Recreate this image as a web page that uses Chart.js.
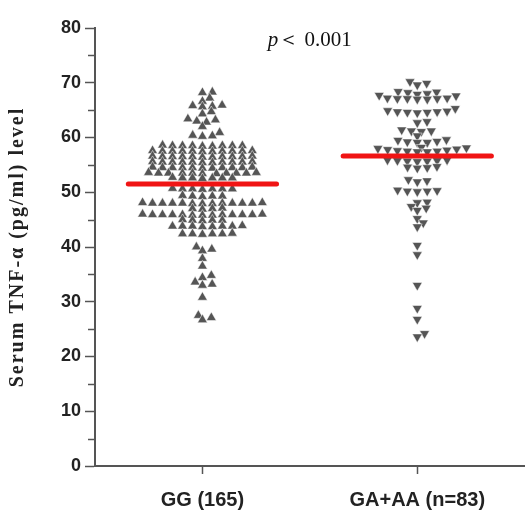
<!DOCTYPE html>
<html>
<head>
<meta charset="utf-8">
<script src="https://cdn.jsdelivr.net/npm/chart.js@4.4.1/dist/chart.umd.min.js"></script>
<style>
html,body{margin:0;padding:0;background:#ffffff;}
#wrap{width:531px;height:514px;position:relative;}
</style>
</head>
<body>
<div id="wrap"><canvas id="c" width="531" height="514"></canvas></div>
<script>
// ---------- data ----------
const categories = ['GG (165)', 'GA+AA (n=83)'];

const ggValues = [
  // sparse upper part
  68.3, 68.2, 67.2, 66.6, 65.9, 65.8, 65.7, 65.6, 64.7, 64.3,
  63.4, 63.2, 63.0, 62.8, 62.0, 60.9, 60.4, 60.3, 60.2,
  // dense upper band
  58.5, 58.5, 58.4, 58.5, 58.6, 58.5, 58.4, 58.5, 58.5,
  57.5, 57.5, 57.4, 57.5, 57.6, 57.5, 57.5, 57.4, 57.5, 57.6, 57.5,
  56.5, 56.5, 56.4, 56.5, 56.6, 56.5, 56.5, 56.4, 56.5, 56.6, 56.5,
  55.5, 55.5, 55.4, 55.5, 55.6, 55.5, 55.5, 55.4, 55.5, 55.6, 55.5,
  54.5, 54.5, 54.4, 54.5, 54.6, 54.5, 54.5, 54.4, 54.5, 54.6, 54.5,
  53.5, 53.5, 53.4, 53.5, 53.6, 53.5, 53.5, 53.4, 53.5, 53.6, 53.5,
  52.6, 52.6, 52.5, 52.6, 52.7, 52.6, 52.6,
  // dense lower band
  50.6, 50.6, 50.5, 50.6, 50.7, 50.6, 50.6,
  49.3, 49.3, 49.2, 49.3, 49.4,
  48.0, 48.0, 47.9, 48.0, 48.1, 48.0, 48.0, 47.9, 48.0, 48.1, 48.0, 48.0, 47.9,
  47.0, 47.0, 46.9, 47.1,
  45.9, 45.9, 45.8, 45.9, 46.0, 45.9, 45.9, 45.8, 45.9, 46.0, 45.9, 45.9, 45.8,
  44.9, 44.9, 44.8, 44.9, 45.0,
  43.8, 43.8, 43.7, 43.8, 43.9, 43.8, 43.8, 43.7,
  42.4, 42.4, 42.3, 42.4, 42.5, 42.4,
  // sparse lower part
  40.0, 39.6, 39.3, 37.9, 36.5, 34.8, 34.4, 33.6, 33.2, 33.0,
  30.8, 27.5, 27.1, 26.7
];

const gaaaValues = [
  70.2, 69.9, 69.6,
  68.4, 68.3, 68.2, 68.0, 67.9, 67.7, 67.6,
  67.2, 67.1, 67.1, 67.0, 67.0, 67.1, 67.2,
  65.3, 64.8, 64.7, 64.6, 64.5, 64.6, 64.7, 64.9,
  62.9, 62.7,
  61.4, 61.2, 61.1, 61.2, 60.3,
  59.5, 59.2, 59.1, 59.1, 59.3, 59.6,
  58.2, 58.1, 58.0, 57.8, 57.6, 57.5, 57.4, 57.4, 57.5, 57.7, 57.9,
  55.9, 55.8, 55.7, 55.6, 55.8, 55.9, 55.7,
  54.7, 54.5, 54.4, 54.6,
  52.3, 52.1, 51.9,
  50.4, 50.2, 50.1, 50.2, 50.3,
  48.2, 48.1, 47.4, 47.1, 46.7,
  45.2, 44.4, 43.7,
  40.3, 38.6, 33.0, 28.8, 26.8, 24.2, 23.6
];

const groupMeans = [51.5, 56.6];
const yTickValues = [0, 10, 20, 30, 40, 50, 60, 70, 80];
const yMinorTickValues = [5, 15, 25, 35, 45, 55, 65, 75];
const yTitle = 'Serum TNF-\u03b1 (pg/ml) level';
const pItalic = 'p';
const pRest = '\uff1c 0.001';

// ---------- styling / layout constants ----------
const MARK = '#555555';
const AXIS = '#555555';
const RED = '#f01414';
const MEAN_HALF = 0.345;   // half length of the mean bar (category units)
const SWARM_W = 10;        // horizontal spacing of swarm points (px)
const SWARM_H = 4.8;       // vertical reach of collision (px)

const groups = [ggValues, gaaaValues];

const pointDatasets = groups.map((vals, gi) => ({
  type: 'scatter',
  data: vals.map(v => ({ x: gi, y: v })),
  pointStyle: 'triangle',
  rotation: gi === 0 ? 0 : 180,
  pointRadius: 5.7,
  pointHoverRadius: 5.7,
  backgroundColor: MARK,
  borderColor: 'rgba(255,255,255,0.85)',
  borderWidth: 0.6,
  order: 2
}));

const meanDatasets = groupMeans.map((m, gi) => ({
  type: 'line',
  data: [{ x: gi - MEAN_HALF, y: m }, { x: gi + MEAN_HALF, y: m }],
  borderColor: RED,
  borderWidth: 5,
  borderCapStyle: 'round',
  pointRadius: 0,
  fill: false,
  order: 1
}));

const extras = {
  id: 'extras',
  afterDraw(chart) {
    const ctx = chart.ctx;
    const y = chart.scales.y;
    const x = chart.scales.x;
    const area = chart.chartArea;
    ctx.save();
    // minor ticks on the y axis
    ctx.strokeStyle = AXIS;
    ctx.lineWidth = 1.5;
    yMinorTickValues.forEach(v => {
      const py = Math.round(y.getPixelForValue(v)) + 0.5;
      ctx.beginPath();
      ctx.moveTo(y.right - 7, py);
      ctx.lineTo(y.right, py);
      ctx.stroke();
    });
    // y axis title
    ctx.save();
    ctx.translate(18, (area.top + area.bottom) / 2);
    ctx.rotate(-Math.PI / 2);
    ctx.fillStyle = '#222222';
    ctx.font = 'bold 20px "Liberation Serif"';
    try { ctx.letterSpacing = '2px'; } catch (e) {}
    ctx.textAlign = 'center';
    ctx.textBaseline = 'middle';
    ctx.fillText(yTitle, 0, 0);
    try { ctx.letterSpacing = '0px'; } catch (e) {}
    ctx.restore();
    // p value annotation
    const cx = x.getPixelForValue(0.5);
    const base = area.top + 18;
    ctx.fillStyle = '#111111';
    ctx.textBaseline = 'alphabetic';
    ctx.textAlign = 'left';
    ctx.font = 'italic 21px "Liberation Serif"';
    const w1 = ctx.measureText(pItalic).width;
    ctx.font = '21px "Liberation Serif"';
    const w2 = ctx.measureText(pRest).width;
    const start = cx - (w1 + w2) / 2;
    ctx.font = 'italic 21px "Liberation Serif"';
    ctx.fillText(pItalic, start, base);
    ctx.font = '21px "Liberation Serif"';
    ctx.fillText(pRest, start + w1, base);
    ctx.restore();
  }
};

const chart = new Chart(document.getElementById('c'), {
  data: { datasets: [...meanDatasets, ...pointDatasets] },
  options: {
    responsive: false,
    animation: false,
    devicePixelRatio: 1,
    layout: { padding: { top: 28, right: 0, bottom: 0, left: 0 } },
    plugins: { legend: { display: false }, tooltip: { enabled: false } },
    scales: {
      x: {
        type: 'linear',
        min: -0.5,
        max: 1.5,
        afterBuildTicks(scale) { scale.ticks = categories.map((c, i) => ({ value: i })); },
        afterFit(scale) { scale.height = 48; },
        ticks: {
          autoSkip: false,
          maxRotation: 0,
          padding: 14,
          color: '#222222',
          font: { family: 'Liberation Sans', size: 20, weight: 'bold' },
          callback: v => categories[v]
        },
        grid: { drawOnChartArea: false, drawTicks: true, tickLength: 8, tickColor: AXIS, tickWidth: 1.5, color: AXIS },
        border: { display: true, color: AXIS, width: 2 }
      },
      y: {
        type: 'linear',
        min: 0,
        max: 80,
        afterBuildTicks(scale) { scale.ticks = yTickValues.map(v => ({ value: v })); },
        afterFit(scale) { scale.width = 95; },
        ticks: {
          padding: 4,
          color: '#222222',
          font: { family: 'Liberation Sans', size: 18, weight: 'bold' }
        },
        grid: { drawOnChartArea: false, drawTicks: true, tickLength: 10, tickColor: AXIS, tickWidth: 1.5, color: AXIS },
        border: { display: true, color: AXIS, width: 2 },
        title: { display: false }
      }
    }
  },
  plugins: [extras]
});

// ---------- beeswarm layout using the chart's own scales ----------
function swarmOffsets(vals, yScale) {
  const order = vals.map((v, i) => i).sort((a, b) => vals[a] - vals[b]);
  const placed = [];
  const out = new Array(vals.length).fill(0);
  order.forEach(i => {
    const py = yScale.getPixelForValue(vals[i]);
    const near = placed.filter(p => Math.abs(p.y - py) < SWARM_H);
    const cands = [0];
    near.forEach(p => {
      const t = (p.y - py) / SWARM_H;
      const d = SWARM_W * Math.sqrt(Math.max(0, 1 - t * t));
      cands.push(p.x + d, p.x - d);
    });
    const ok = c => near.every(p => {
      const dy = (p.y - py) / SWARM_H, dx = (p.x - c) / SWARM_W;
      return dx * dx + dy * dy >= 0.999;
    });
    const rightN = near.filter(p => p.x > 0.5).length;
    const leftN = near.filter(p => p.x < -0.5).length;
    const valid = cands.filter(ok);
    valid.sort((a, b) => {
      const d = Math.abs(a) - Math.abs(b);
      if (Math.abs(d) > 0.01) return d;
      return rightN <= leftN ? b - a : a - b;
    });
    const x = valid[0];
    placed.push({ x, y: py });
    out[i] = x;
  });
  return out;
}

const xs = chart.scales.x, ys = chart.scales.y;
const unitPx = xs.getPixelForValue(1) - xs.getPixelForValue(0);
groups.forEach((vals, gi) => {
  const off = swarmOffsets(vals, ys);
  chart.data.datasets[meanDatasets.length + gi].data = vals.map((v, i) => ({ x: gi + off[i] / unitPx, y: v }));
});
chart.update('none');
</script>
</body>
</html>
